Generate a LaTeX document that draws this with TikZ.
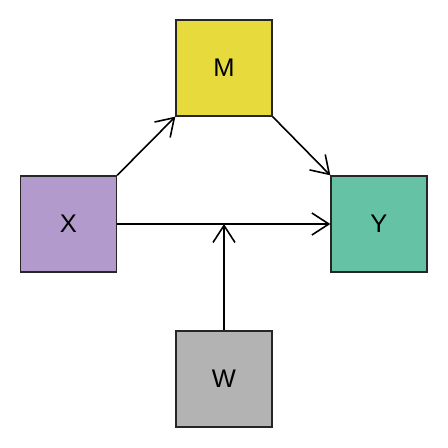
\documentclass[tikz,border=0pt]{standalone}
\usepackage{fontspec}
\setmainfont{Liberation Sans}
\usetikzlibrary{arrows.meta}
\definecolor{cM}{HTML}{E6DA3C}
\definecolor{cX}{HTML}{B29ACC}
\definecolor{cY}{HTML}{66C2A5}
\definecolor{cW}{HTML}{B3B3B3}
\begin{document}
\begin{tikzpicture}[x=1pt,y=-1pt,
  varbox/.style={draw=black!85, line width=1.3pt, minimum width=96pt, minimum height=96pt, inner sep=0pt, font=\fontsize{25.5}{25.5}\selectfont},
  conn/.style={line width=1.6pt, -{Straight Barb[length=17pt,width=22pt]}}]
\useasboundingbox (0,0) rectangle (448,448);
\node[varbox, fill=cM] (M) at (224,68) {M};
\node[varbox, fill=cX] (X) at (68.5,224) {X};
\node[varbox, fill=cY] (Y) at (379,224) {Y};
\node[varbox, fill=cW] (W) at (224,379) {W};
\coordinate (J) at (224,224);
\draw[conn] (X.north east) -- (M.south west);
\draw[conn] (M.south east) -- (Y.north west);
\draw[conn] (X.east) -- (Y.west);
\draw[conn] (W.north) -- (J);
\end{tikzpicture}
\end{document}
